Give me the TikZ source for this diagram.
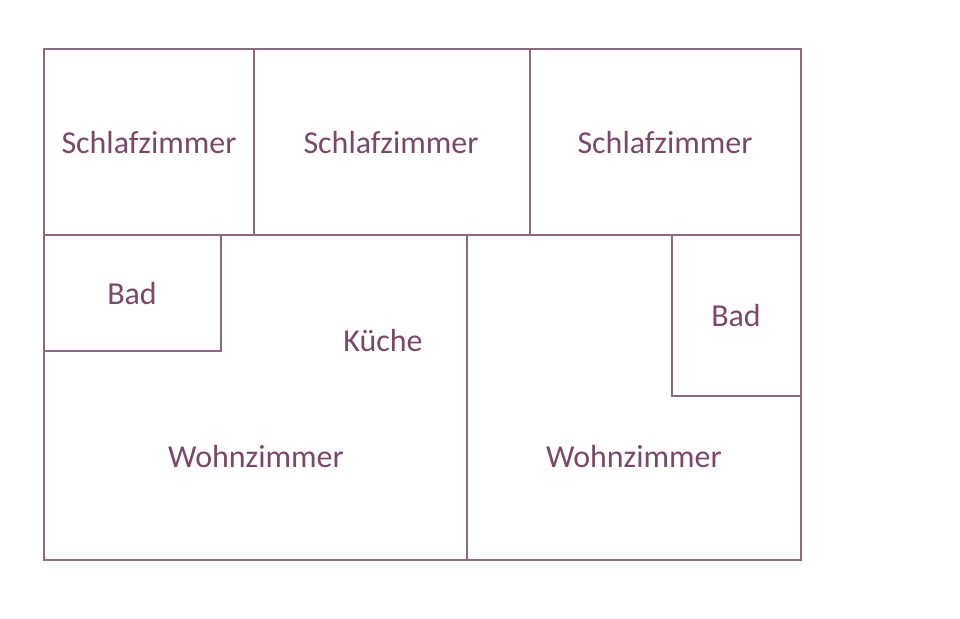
\documentclass[tikz,border=0pt]{standalone}
\usepackage{fontspec}
\setmainfont{Carlito}
\definecolor{wand}{HTML}{8A6A80}
\definecolor{schrift}{HTML}{7A4868}
\tikzset{wall/.style={draw=wand, line width=0.8pt},
  raum/.style={text=schrift, font=\fontsize{24}{28}\selectfont}}
\begin{document}
\begin{tikzpicture}[x=0.0264cm,y=-0.0264cm]
  \useasboundingbox (0,0) rectangle (960,619);
  % Grundriss
  \draw[wall] (44,49) rectangle (801,560);
  \draw[wall] (44,235) -- (801,235);
  \draw[wall] (254,49) -- (254,235);
  \draw[wall] (530,49) -- (530,235);
  \draw[wall] (467,235) -- (467,560);
  \draw[wall] (44,351) -- (221,351) -- (221,235);
  \draw[wall] (672,235) -- (672,396) -- (801,396);
  % Beschriftung
  \node[raum] (schlaf1) at (149,143) {Schlafzimmer};
  \node[raum] (schlaf2) at (391,143) {Schlafzimmer};
  \node[raum] (schlaf3) at (665,143) {Schlafzimmer};
  \node[raum] (bad1) at (132,294) {Bad};
  \node[raum] (bad2) at (736,316) {Bad};
  \node[raum] (kueche) at (383,341) {Küche};
  \node[raum] (wohn1) at (256,457) {Wohnzimmer};
  \node[raum] (wohn2) at (634,457) {Wohnzimmer};
\end{tikzpicture}
\end{document}
